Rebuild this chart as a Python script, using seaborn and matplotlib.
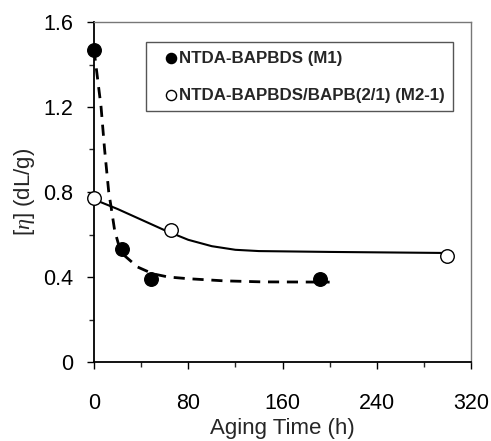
import matplotlib
matplotlib.use("Agg")
import matplotlib.pyplot as plt
import seaborn as sns
import pandas as pd
from matplotlib.ticker import MultipleLocator

# ---- data ----
m1_time = [0, 24, 48, 192]
m1_eta = [1.47, 0.53, 0.39, 0.39]
m2_time = [0, 65, 300]
m2_eta = [0.77, 0.62, 0.50]

# trend curves
m1_fit_time = [0, 6, 9, 12.5, 14.5, 17.5, 20.5, 26, 37, 50, 63, 80, 110, 143, 200]
m1_fit_eta = [1.47, 1.20, 1.00, 0.80, 0.73, 0.62, 0.56, 0.50, 0.447, 0.415, 0.40, 0.392, 0.382, 0.377, 0.376]
m2_fit_time = [0, 20, 40, 60, 80, 100, 120, 140, 200, 300]
m2_fit_eta = [0.765, 0.72, 0.67, 0.62, 0.575, 0.545, 0.528, 0.522, 0.518, 0.513]

label_m1 = "NTDA-BAPBDS (M1)"
label_m2 = "NTDA-BAPBDS/BAPB(2/1) (M2-1)"
x_ticks = [0, 80, 160, 240, 320]
y_ticks = [0, 0.4, 0.8, 1.2, 1.6]
y_tick_labels = ["0", "0.4", "0.8", "1.2", "1.6"]

sns.set_theme(style="ticks")
plt.rcParams["font.family"] = ["Liberation Sans", "DejaVu Sans"]
plt.rcParams["mathtext.fontset"] = "custom"
plt.rcParams["mathtext.it"] = "Liberation Serif:italic"
plt.rcParams["mathtext.rm"] = "Liberation Sans"

fig = plt.figure(figsize=(4.91, 4.41), dpi=100)
ax = fig.add_axes([94/491, 1-362/441, 377/491, 340/441])

df1 = pd.DataFrame({"t": m1_fit_time, "eta": m1_fit_eta})
df2 = pd.DataFrame({"t": m2_fit_time, "eta": m2_fit_eta})
sns.lineplot(data=df1, x="t", y="eta", ax=ax, color="black", lw=2.0,
             linestyle=(0, (4, 2.8)), sort=False, estimator=None, legend=False)
sns.lineplot(data=df2, x="t", y="eta", ax=ax, color="black", lw=1.5,
             sort=False, estimator=None, legend=False)

p1 = pd.DataFrame({"t": m1_time, "eta": m1_eta})
p2 = pd.DataFrame({"t": m2_time, "eta": m2_eta})
sns.scatterplot(data=p1, x="t", y="eta", ax=ax, s=95, color="black",
                edgecolor="black", linewidth=1, label=label_m1, zorder=5, clip_on=False)
sns.scatterplot(data=p2, x="t", y="eta", ax=ax, s=95, facecolor="white",
                edgecolor="black", linewidth=1, label=label_m2, zorder=5, clip_on=False)

ax.set_xlim(0, 320)
ax.set_ylim(0, 1.6)
ax.set_xticks(x_ticks)
ax.set_yticks(y_ticks)
ax.set_yticklabels(y_tick_labels)
ax.xaxis.set_minor_locator(MultipleLocator(40))
ax.yaxis.set_minor_locator(MultipleLocator(0.2))
ax.tick_params(axis="both", which="major", direction="out", length=5, width=1,
               labelsize=15.5, colors="black")
ax.tick_params(axis="both", which="minor", direction="out", length=3.5, width=1)
ax.tick_params(axis="y", which="major", pad=10)
ax.tick_params(axis="x", which="major", pad=17)

for s in ["left", "bottom"]:
    ax.spines[s].set_color("black")
    ax.spines[s].set_linewidth(1.3)
for s in ["top", "right"]:
    ax.spines[s].set_color("#777777")
    ax.spines[s].set_linewidth(1.0)
    ax.spines[s].set_visible(True)

ax.set_xlabel("Aging Time (h)", fontsize=16, labelpad=3)
ax.set_ylabel(r"[$\eta$] (dL/g)", fontsize=16, labelpad=4)

leg = ax.legend(loc="upper left", bbox_to_anchor=(0.138, 0.941), frameon=True,
                fancybox=False, edgecolor="#555555", framealpha=1,
                prop={"weight": "bold", "size": 12.2}, handlelength=2.0,
                handletextpad=-0.55, borderpad=0.5, labelspacing=1.3,
                markerscale=0.75, borderaxespad=0)
leg.get_frame().set_linewidth(1.0)

fig.savefig("out.png", dpi=100)
